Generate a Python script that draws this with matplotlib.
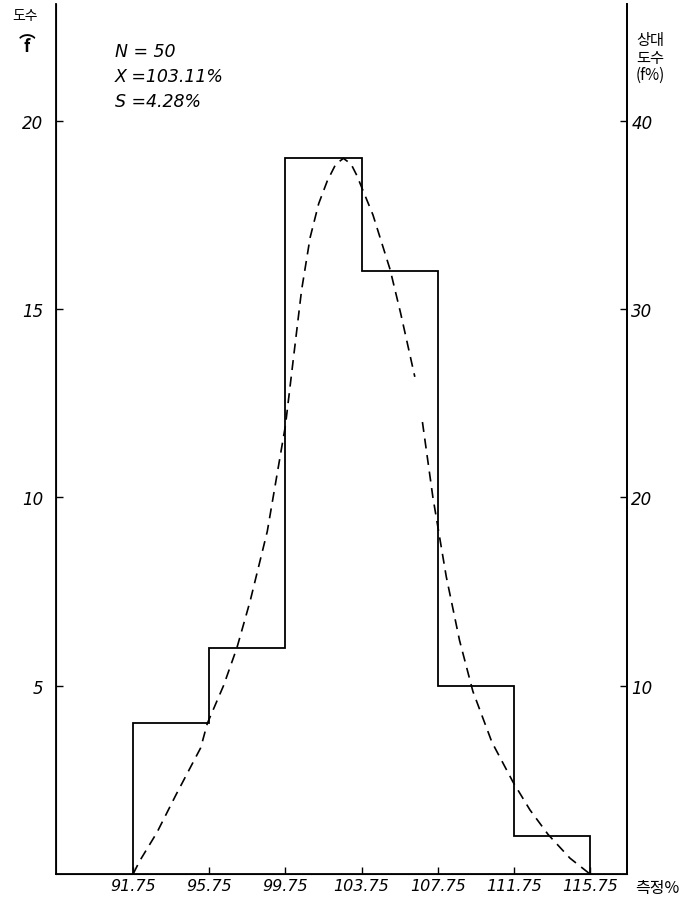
import matplotlib
matplotlib.use("Agg")
import matplotlib.pyplot as plt

plt.rcParams['font.family'] = ['DejaVu Sans', 'Noto Sans CJK KR']

# histogram (class boundaries and frequencies)
edges = [91.75, 95.75, 99.75, 103.75, 107.75, 111.75, 115.75]
counts = [4, 6, 19, 16, 5, 1]
tick_labels = ['91.75', '95.75', '99.75', '103.75', '107.75', '111.75', '115.75']

# fitted curve (drawn in two pieces, pen lifted near 106.7)
curve_x1 = [91.75, 92.1, 93.0, 94.0, 95.3, 95.65, 96.5, 97.2, 97.9, 98.8,
            99.75, 100.15, 100.6, 101.05, 101.5, 101.95, 102.4, 102.8,
            103.2, 103.5, 104.35, 105.25, 105.8, 106.55]
curve_y1 = [0.0, 0.35, 1.1, 2.1, 3.35, 4.0, 5.0, 6.0, 7.25, 9.1,
            11.9, 13.6, 15.5, 16.9, 17.8, 18.4, 18.85, 19.0,
            18.85, 18.55, 17.5, 16.05, 14.9, 13.2]
curve_x2 = [106.95, 107.5, 108.2, 108.9, 109.6, 110.6, 111.7, 112.6, 113.55, 114.7, 115.75]
curve_y2 = [12.0, 10.0, 7.9, 6.2, 4.85, 3.5, 2.45, 1.7, 1.05, 0.42, 0.0]

fig = plt.figure(figsize=(6.85, 9.04), dpi=100)
ax = fig.add_axes([0.0818, 0.0321, 0.8336, 0.9624])

ax.stairs(counts, edges, color='black', linewidth=1.3)
ax.plot(curve_x1, curve_y1, color='black', linewidth=1.2, linestyle=(0, (6, 4)))
ax.plot(curve_x2, curve_y2, color='black', linewidth=1.2, linestyle=(0, (6, 4)))

ax.set_xlim(87.7, 117.7)
ax.set_ylim(0, 23.1)

for side in ['left', 'bottom', 'right']:
    ax.spines[side].set_linewidth(1.3)
ax.spines['top'].set_visible(False)

ax.set_xticks(edges)
ax.set_xticklabels(tick_labels, fontstyle='italic', fontsize=11.5)
ax.set_yticks([5, 10, 15, 20])
ax.set_yticklabels(['5', '10', '15', '20'], fontstyle='italic', fontsize=12)
ax.tick_params(axis='both', direction='in', length=5, width=1, pad=9)
ax.tick_params(axis='x', pad=3)

# relative frequency axis on the right
ax2 = ax.twinx()
ax2.set_ylim(0, 46.2)
ax2.set_yticks([10, 20, 30, 40])
ax2.set_yticklabels(['10', '20', '30', '40'], fontstyle='italic', fontsize=12)
ax2.tick_params(axis='y', direction='in', length=5, width=1, pad=3)
ax2.spines['top'].set_visible(False)
ax2.spines['right'].set_linewidth(1.3)

# axis titles
kr = ['Noto Sans CJK KR', 'DejaVu Sans']
fig.text(25 / 685, 1 - 16 / 904, '도수', fontsize=10, ha='center', va='center', family=kr)
fig.text(27 / 685, 1 - 40 / 904, '︵\nf', fontsize=12, ha='center', va='center',
         fontweight='bold', linespacing=0.75, family=kr)
fig.text(650 / 685, 1 - 58 / 904, '상대\n도수\n(f%)', fontsize=11, ha='center', va='center',
         linespacing=1.0, family=kr)
fig.text(657 / 685, 1 - 889 / 904, '측정%', fontsize=11.5, ha='center', va='center', family=kr)

# statistics
stats = ['N = 50', 'X =103.11%', 'S =4.28%']
for i, s in enumerate(stats):
    fig.text(115 / 685, 1 - (52 + 25 * i) / 904, s, fontsize=12.5, fontstyle='italic',
             ha='left', va='center')

fig.savefig('out.png', dpi=100)
